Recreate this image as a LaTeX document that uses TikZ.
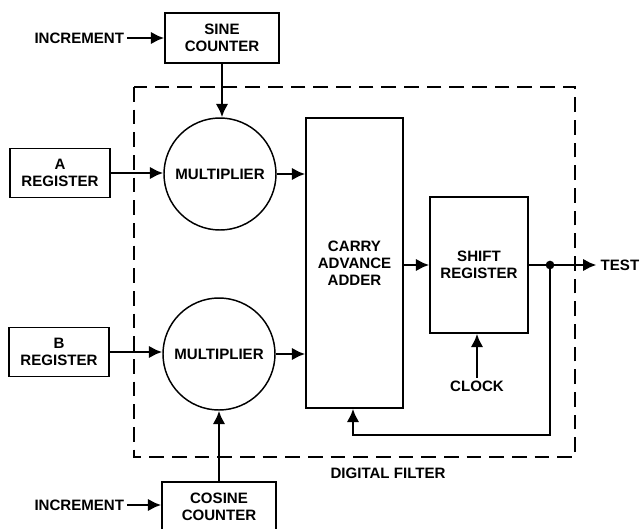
\documentclass[tikz,border=0pt]{standalone}
\usepackage{fontspec}
\setmainfont{Liberation Sans}
\usetikzlibrary{arrows.meta,positioning,calc}

\begin{document}
\begin{tikzpicture}[x=0.75pt,y=-0.75pt,
every node/.style={font=\bfseries\fontsize{11.3}{12.9}\selectfont},
registro/.style={draw,line width=1.1pt,minimum width=75pt,minimum height=36.75pt,align=center,inner sep=0pt},
contador/.style={draw,line width=1.1pt,minimum width=85.5pt,minimum height=37.5pt,align=center,inner sep=0pt},
multi/.style={draw,circle,line width=1.1pt,minimum size=84pt,inner sep=0pt,align=center},
bloque/.style={draw,line width=1.1pt,align=center,inner sep=0pt},
marco/.style={draw,line width=1.1pt,dash pattern=on 11pt off 6pt},
txt/.style={align=center,inner sep=2pt},
arr/.style={-{Latex[length=10pt,width=9.5pt]},line width=2.1pt},
punto/.style={circle,fill,inner sep=0pt,minimum size=6.5pt}
]
\useasboundingbox (0,0) rectangle (640,529);

% digital filter frame
\draw[marco] (134,87) rectangle (575,457);
\node[txt] (filtro) at (388,473) {DIGITAL FILTER};

\node[contador] (seno) at (222,38) {SINE\\COUNTER};
\node[contador] (coseno) at (219,507) {COSINE\\COUNTER};
\node[txt,anchor=east] (inc1) at (127,38) {INCREMENT};
\node[txt,anchor=east] (inc2) at (127,505) {INCREMENT};

\node[registro] (rega) at (60,173) {A\\REGISTER};
\node[registro] (regb) at (59,352) {B\\REGISTER};

\node[multi] (mult1) at (220,174) {MULTIPLIER};
\node[multi] (mult2) at (219,354) {MULTIPLIER};

\node[bloque,minimum width=72.75pt,minimum height=217.5pt] (sumador) at (354.5,263) {CARRY\\ADVANCE\\ADDER};
\node[bloque,minimum width=73.5pt,minimum height=102pt] (desp) at (479,265) {SHIFT\\REGISTER};

\node[punto] (nodo) at (550,265) {};
\node[txt,anchor=east,inner sep=0pt] (prueba) at (639.5,265) {TEST};
\node[txt] (reloj) at (477,386) {CLOCK};
\coordinate (retorno) at (353,435);

\draw[arr] (inc1) -- (inc1 -| seno.west);
\draw[arr] (inc2) -- (inc2 -| coseno.west);
\draw[arr] (seno.south) -- (seno.south |- mult1.north);
\draw[arr] (coseno.north) -- (mult2.south);
\draw[arr] (rega.east) -- (rega.east -| mult1.west);
\draw[arr] (regb.east) -- (regb.east -| mult2.west);
\foreach \m in {mult1,mult2} \draw[arr] (\m.east) -- (\m.east -| sumador.west);
\draw[arr] (sumador.east |- desp.west) -- (desp.west);
\draw[arr] (desp.east) -- ([xshift=-3pt]prueba.west);
\draw[arr] (reloj.north) -- (reloj.north |- desp.south);
\draw[arr] (nodo.center) |- (retorno) -- (retorno |- sumador.south);
\end{tikzpicture}
\end{document}
